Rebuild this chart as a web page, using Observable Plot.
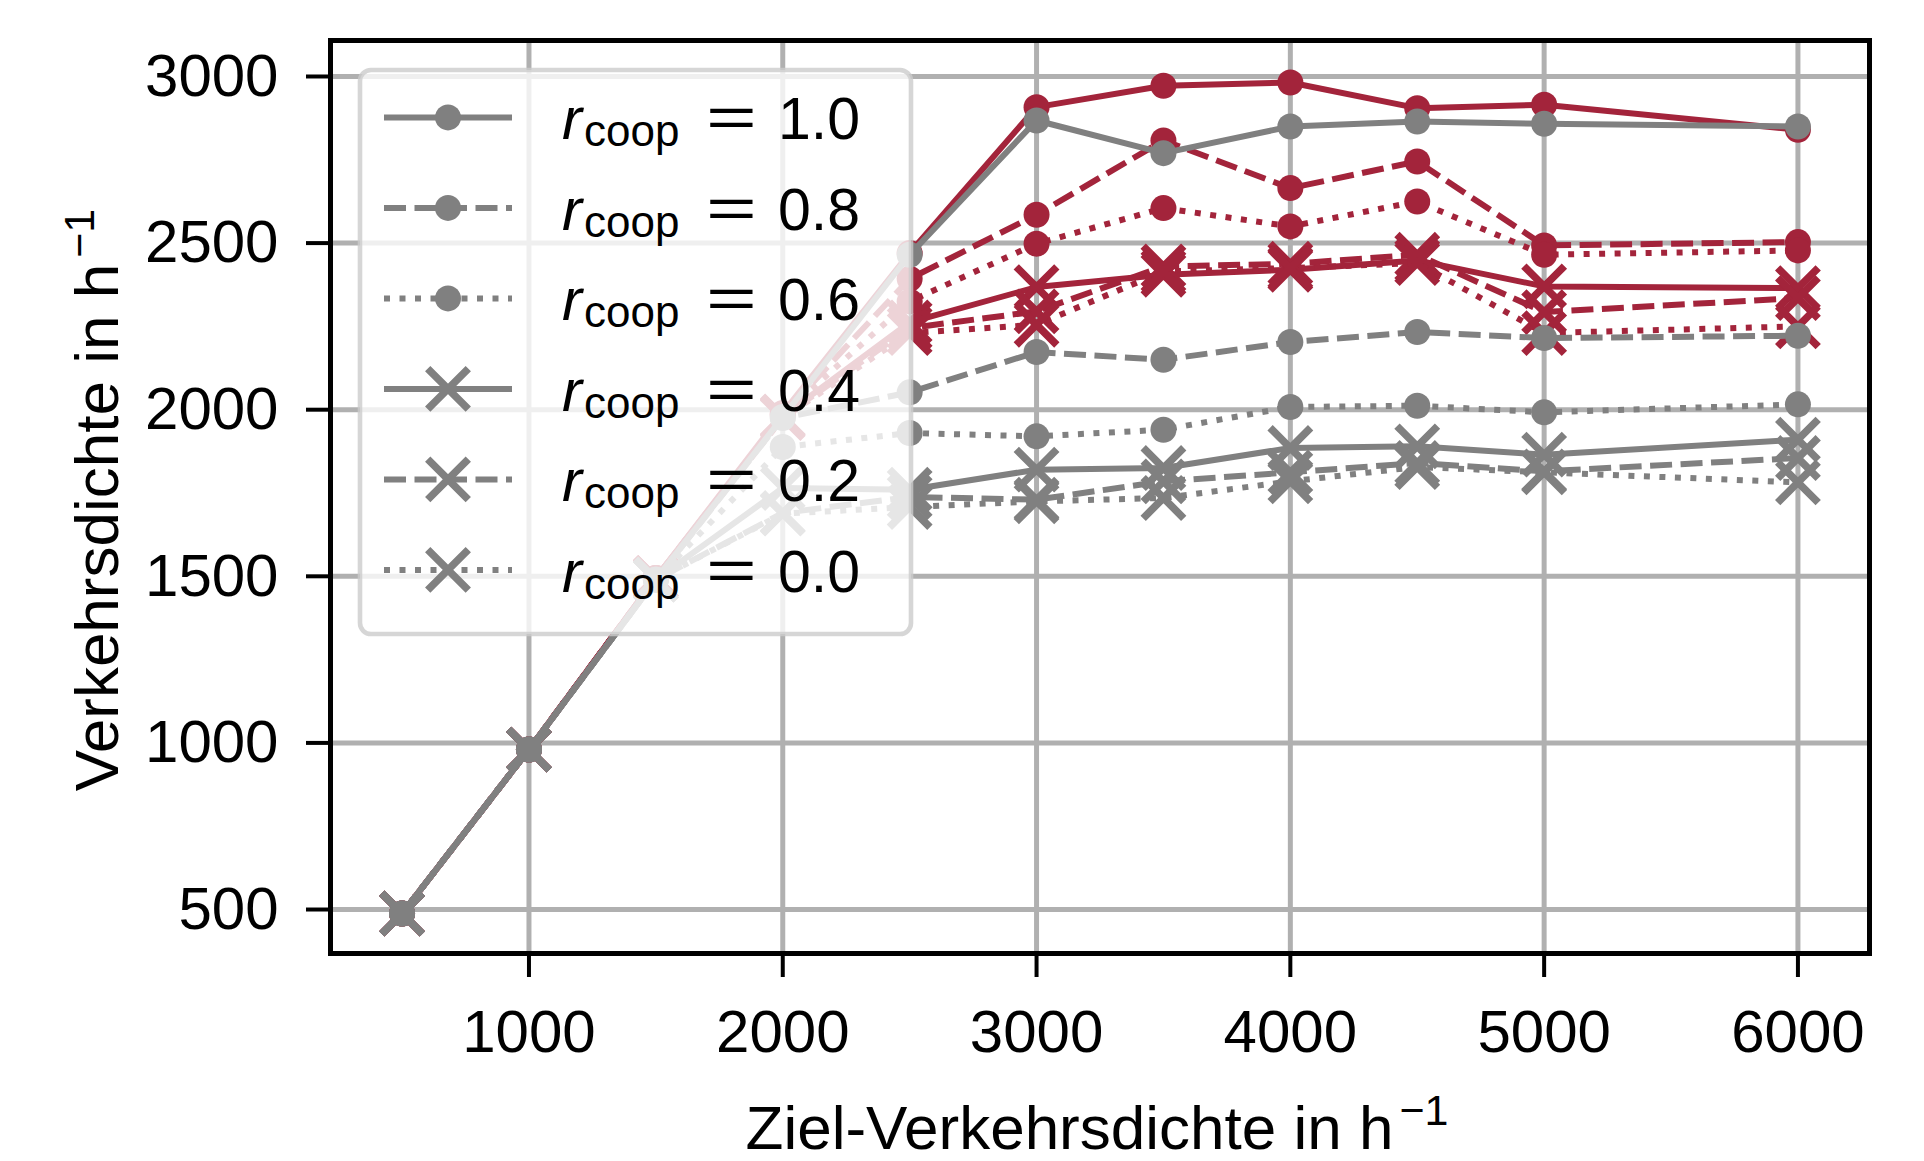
<!DOCTYPE html>
<html><head><meta charset="utf-8">
<script src="https://cdn.jsdelivr.net/npm/d3@7"></script>
<script src="https://cdn.jsdelivr.net/npm/@observablehq/plot@0.6"></script>
<style>body{margin:0;background:#fff;} svg{display:block}</style>
</head><body><div id="chart"></div>
<script>
// ---- data ----
const xValues = [500, 1000, 1500, 2000, 2500, 3000, 3500, 4000, 4500, 5000, 6000];
const xTicks = [1000, 2000, 3000, 4000, 5000, 6000];
const yTicks = [500, 1000, 1500, 2000, 2500, 3000];
const coopLevels = ["1.0", "0.8", "0.6", "0.4", "0.2", "0.0"];

// red series
const red10 = [488, 980, 1495, 1990, 2470, 2908, 2972, 2982, 2905, 2915, 2840];
const red08 = [488, 980, 1495, 1985, 2393, 2585, 2808, 2665, 2745, 2493, 2503];
const red06 = [488, 980, 1495, 1985, 2325, 2498, 2605, 2550, 2625, 2465, 2478];
const red04 = [488, 980, 1495, 1980, 2262, 2368, 2405, 2420, 2448, 2370, 2365];
const red02 = [488, 980, 1495, 1978, 2245, 2295, 2430, 2438, 2465, 2293, 2335];
const red00 = [488, 980, 1495, 1975, 2230, 2255, 2415, 2425, 2440, 2230, 2250];
// gray series
const gray10 = [488, 980, 1490, 1978, 2465, 2868, 2770, 2850, 2865, 2858, 2850];
const gray08 = [488, 980, 1490, 1975, 2052, 2173, 2150, 2203, 2233, 2215, 2222];
const gray06 = [488, 980, 1490, 1888, 1930, 1920, 1940, 2008, 2012, 1992, 2016];
const gray04 = [488, 980, 1490, 1765, 1760, 1820, 1825, 1885, 1890, 1865, 1910];
const gray02 = [488, 980, 1490, 1690, 1738, 1730, 1785, 1812, 1840, 1815, 1855];
const gray00 = [488, 980, 1490, 1688, 1708, 1725, 1735, 1785, 1828, 1812, 1782];

// ---- styles ----
const RED = "#a3243b";
const GRAY = "#808080";
const LW = 6;
const DASHES = {"1.0": null, "0.8": "22,8.5", "0.6": "6,9.5", "0.4": null, "0.2": "22,8.5", "0.0": "6,9.5"};
const SYMBOLS = {"1.0": "circle", "0.8": "circle", "0.6": "circle", "0.4": "times", "0.2": "times", "0.0": "times"};
const CIRCLE_R = 13, TIMES_R = 18.5, TIMES_W = 7.5;

const redSeries = [red10, red08, red06, red04, red02, red00];
const graySeries = [gray10, gray08, gray06, gray04, gray02, gray00];

function seriesMarks(values, level, color) {
  const rows = xValues.map((x, i) => ({x, y: values[i]}));
  const dash = DASHES[level];
  const marks = [
    Plot.line(rows, {x: "x", y: "y", stroke: color, strokeWidth: LW,
      strokeDasharray: dash || undefined, strokeLinecap: dash ? "butt" : "square", strokeLinejoin: "round"})
  ];
  if (SYMBOLS[level] === "circle") {
    marks.push(Plot.dot(rows, {x: "x", y: "y", r: CIRCLE_R, fill: color, stroke: "none", symbol: "circle"}));
  } else {
    marks.push(Plot.dot(rows, {x: "x", y: "y", r: TIMES_R, stroke: color, fill: "none", strokeWidth: TIMES_W, symbol: "times"}));
  }
  return marks;
}

const marks = [
  Plot.gridX(xTicks, {stroke: "#b0b0b0", strokeOpacity: 1, strokeWidth: 5}),
  Plot.gridY(yTicks, {stroke: "#b0b0b0", strokeOpacity: 1, strokeWidth: 5}),
];
redSeries.forEach((v, i) => marks.push(...seriesMarks(v, coopLevels[i], RED)));
graySeries.forEach((v, i) => marks.push(...seriesMarks(v, coopLevels[i], GRAY)));
marks.push(
  Plot.axisX({ticks: xTicks, tickSize: 24, tickPadding: 32, tickFormat: "d", label: null, strokeWidth: 4}),
  Plot.axisY({ticks: yTicks, tickSize: 24, tickPadding: 28, tickFormat: "d", label: null, strokeWidth: 4}),
  Plot.frame({stroke: "black", strokeWidth: 5})
);

const svgNode = Plot.plot({
  width: 1924, height: 1161,
  marginLeft: 330, marginRight: 55, marginTop: 40, marginBottom: 208,
  x: {domain: [218, 6282]},
  y: {domain: [368, 3108]},
  style: {fontFamily: "Liberation Sans, Arial, sans-serif", fontSize: "60px", background: "white", color: "black"},
  marks
});
document.getElementById("chart").appendChild(svgNode);

// ---- legend & axis labels ----
const svg = d3.select(svgNode);
const lg = svg.append("g").attr("text-anchor", "start");
lg.append("rect").attr("x", 360).attr("y", 70).attr("width", 551).attr("height", 564).attr("rx", 11)
  .attr("fill", "white").attr("fill-opacity", 0.8)
  .attr("stroke", "#cccccc").attr("stroke-opacity", 0.8).attr("stroke-width", 4.6);
coopLevels.forEach((lvl, i) => {
  const cy = 117.4 + i * 90.5;
  const dash = DASHES[lvl];
  lg.append("line").attr("x1", 384).attr("x2", 512).attr("y1", cy).attr("y2", cy)
    .attr("stroke", GRAY).attr("stroke-width", LW)
    .attr("stroke-dasharray", dash).attr("stroke-linecap", "butt");
  if (SYMBOLS[lvl] === "circle") {
    lg.append("circle").attr("cx", 448).attr("cy", cy).attr("r", CIRCLE_R).attr("fill", GRAY);
  } else {
    const a = TIMES_R * 1.097;
    lg.append("path").attr("d", `M${448 - a},${cy - a}L${448 + a},${cy + a}M${448 - a},${cy + a}L${448 + a},${cy - a}`)
      .attr("stroke", GRAY).attr("stroke-width", TIMES_W).attr("fill", "none");
  }
  lg.append("text").attr("x", 562).attr("y", cy + 22).attr("font-size", 60).attr("font-style", "italic").text("r");
  lg.append("text").attr("x", 584).attr("y", cy + 29).attr("font-size", 44).text("coop");
  lg.append("text").attr("transform", `translate(706,${cy + 20}) scale(1.5,1)`).attr("font-size", 58).text("=");
  lg.append("text").attr("x", 778).attr("y", cy + 22).attr("font-size", 59).text(lvl);
});

const xl = svg.append("text").attr("x", 1097).attr("y", 1149).attr("text-anchor", "middle")
  .attr("font-size", 62).text("Ziel-Verkehrsdichte in h");
xl.append("tspan").attr("dx", 6).attr("dy", -24).attr("font-size", 43).text("−1");

const yl = svg.append("text").attr("transform", "translate(118,500) rotate(-90)").attr("text-anchor", "middle")
  .attr("font-size", 62).text("Verkehrsdichte in h");
yl.append("tspan").attr("dx", 6).attr("dy", -24).attr("font-size", 43).text("−1");
</script></body></html>
